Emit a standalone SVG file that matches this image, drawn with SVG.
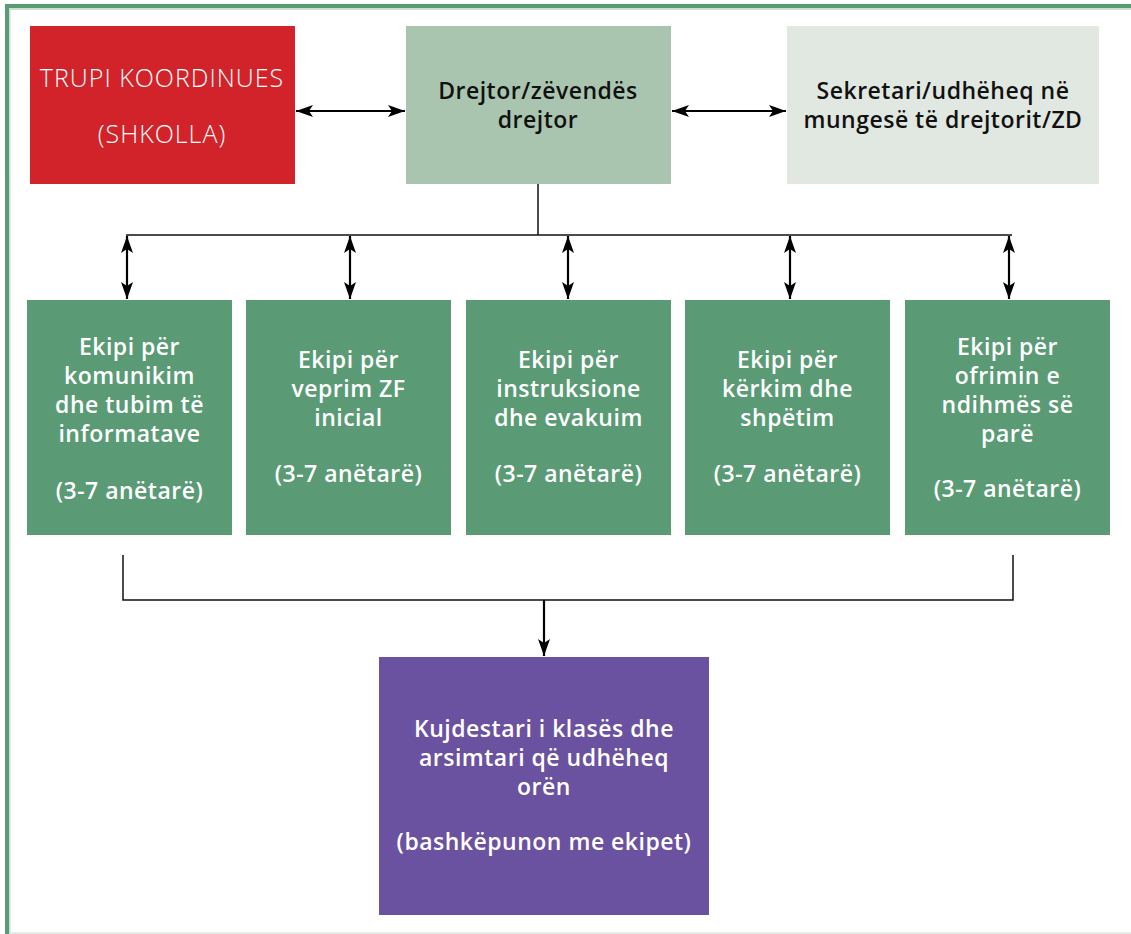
<svg xmlns="http://www.w3.org/2000/svg" width="1131" height="934" viewBox="0 0 1131 934">
<style>
.t{font-family:"Open Sans","Noto Sans","Liberation Sans",sans-serif;font-size:23px;letter-spacing:0.5px;text-anchor:middle}
.w{fill:#ffffff;font-weight:600}
.d{fill:#111111;font-weight:600}
.l{fill:#ffffff;font-weight:300;font-size:25px;letter-spacing:1px}
.ln{stroke:#111;stroke-width:1.5;fill:none}
.ar{stroke:#000;stroke-width:2.2;fill:none;marker-end:url(#ah)}
.ab{stroke:#000;stroke-width:2.2;fill:none;marker-start:url(#ah);marker-end:url(#ah)}
</style>
<defs>
<marker id="ah" viewBox="0 0 17 12" refX="17" refY="6" markerWidth="17" markerHeight="12" markerUnits="userSpaceOnUse" orient="auto-start-reverse">
<path d="M0,0 L17,6 L0,12 L4,6 Z" fill="#000"/>
</marker>
</defs>
<rect x="0" y="0" width="1131" height="934" fill="#ffffff"/>
<g id="frame">
<rect x="5" y="4" width="1126" height="4" fill="#5A9B76"/>
<rect x="9" y="8" width="1122" height="2" fill="#C9E0D0"/>
<rect x="5" y="4" width="4" height="930" fill="#5A9B76"/>
<rect x="9" y="8" width="1.5" height="926" fill="#C9E0D0"/>
<rect x="10" y="932" width="1121" height="2" fill="#E3ECE6"/>
</g>
<g id="connectors">
<line class="ab" x1="296" y1="111" x2="405" y2="111"/>
<line class="ab" x1="672" y1="111" x2="786" y2="111"/>
<polyline class="ln" points="538,184 538,235"/>
<line class="ln" x1="126" y1="235" x2="1012" y2="235"/>
<line class="ab" x1="127" y1="236" x2="127" y2="299"/>
<line class="ab" x1="350" y1="236" x2="350" y2="299"/>
<line class="ab" x1="568" y1="236" x2="568" y2="299"/>
<line class="ab" x1="790" y1="236" x2="790" y2="299"/>
<line class="ab" x1="1009" y1="236" x2="1009" y2="299"/>
<polyline class="ln" points="123,555 123,600 1013,600 1013,555"/>
<line class="ar" x1="544" y1="600" x2="544" y2="656"/>
</g>
<g id="trupi">
<rect x="30" y="26" width="265" height="158" fill="#D2232A"/>
<text class="t l" x="162" y="87">TRUPI KOORDINUES</text>
<text class="t l" x="162" y="143">(SHKOLLA)</text>
</g>
<g id="drejtor">
<rect x="406" y="26" width="265" height="158" fill="#A9C5B0"/>
<text class="t d" x="538" y="99">Drejtor/zëvendës</text>
<text class="t d" x="538" y="128">drejtor</text>
</g>
<g id="sekretari">
<rect x="787" y="26" width="312" height="158" fill="#E1E8E1"/>
<text class="t d" x="943" y="99">Sekretari/udhëheq në</text>
<text class="t d" x="943" y="128">mungesë të drejtorit/ZD</text>
</g>
<g id="ekipi1">
<rect x="27" y="300" width="205" height="235" fill="#5A9B76"/>
<text class="t w" x="129.5" y="355">Ekipi për</text>
<text class="t w" x="129.5" y="384">komunikim</text>
<text class="t w" x="129.5" y="413">dhe tubim të</text>
<text class="t w" x="129.5" y="442">informatave</text>
<text class="t w" x="129.5" y="499">(3-7 anëtarë)</text>
</g>
<g id="ekipi2">
<rect x="246" y="300" width="205" height="235" fill="#5A9B76"/>
<text class="t w" x="348.5" y="368">Ekipi për</text>
<text class="t w" x="348.5" y="397">veprim ZF</text>
<text class="t w" x="348.5" y="426">inicial</text>
<text class="t w" x="348.5" y="482">(3-7 anëtarë)</text>
</g>
<g id="ekipi3">
<rect x="466" y="300" width="205" height="235" fill="#5A9B76"/>
<text class="t w" x="568.5" y="368">Ekipi për</text>
<text class="t w" x="568.5" y="397">instruksione</text>
<text class="t w" x="568.5" y="426">dhe evakuim</text>
<text class="t w" x="568.5" y="482">(3-7 anëtarë)</text>
</g>
<g id="ekipi4">
<rect x="685" y="300" width="205" height="235" fill="#5A9B76"/>
<text class="t w" x="787.5" y="368">Ekipi për</text>
<text class="t w" x="787.5" y="397">kërkim dhe</text>
<text class="t w" x="787.5" y="426">shpëtim</text>
<text class="t w" x="787.5" y="482">(3-7 anëtarë)</text>
</g>
<g id="ekipi5">
<rect x="905" y="300" width="205" height="235" fill="#5A9B76"/>
<text class="t w" x="1007.5" y="355">Ekipi për</text>
<text class="t w" x="1007.5" y="384">ofrimin e</text>
<text class="t w" x="1007.5" y="413">ndihmës së</text>
<text class="t w" x="1007.5" y="442">parë</text>
<text class="t w" x="1007.5" y="497">(3-7 anëtarë)</text>
</g>
<g id="kujdestari">
<rect x="379" y="657" width="330" height="258" fill="#6A52A1"/>
<text class="t w" x="544" y="737">Kujdestari i klasës dhe</text>
<text class="t w" x="544" y="766">arsimtari që udhëheq</text>
<text class="t w" x="544" y="795">orën</text>
<text class="t w" x="544" y="850">(bashkëpunon me ekipet)</text>
</g>
</svg>
